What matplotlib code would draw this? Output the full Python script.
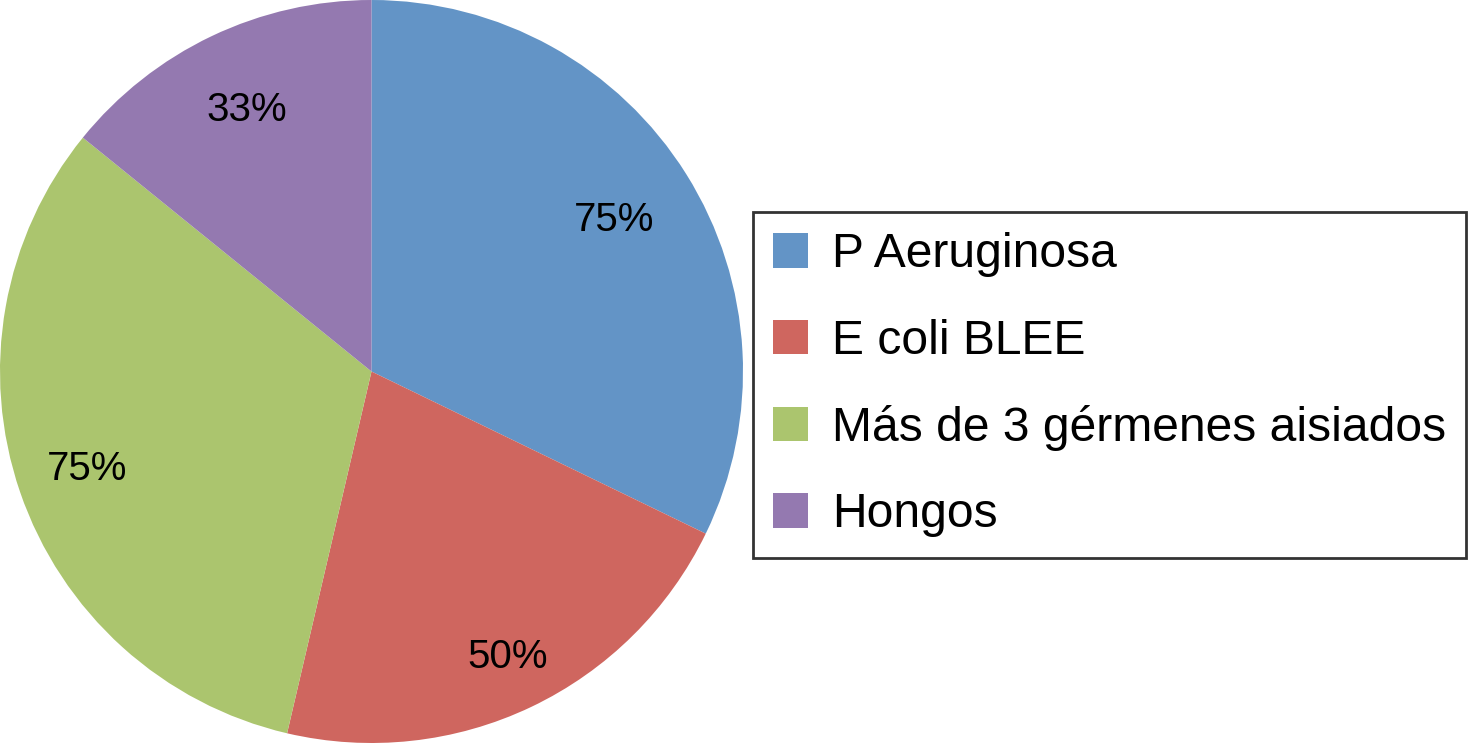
import numpy as np
import matplotlib.pyplot as plt

# Datos del gráfico
categorias = ["P Aeruginosa", "E coli BLEE", "Más de 3 gérmenes aisiados", "Hongos"]
valores = [75, 50, 75, 33]
etiquetas = ["75%", "50%", "75%", "33%"]
colores = ["#6394C6", "#CF665F", "#ABC56E", "#9479B0"]
distancias = [0.77, 0.85, 0.81, 0.78]  # distancia de cada etiqueta al centro

plt.rcParams["font.family"] = ["Liberation Sans", "DejaVu Sans"]

fig = plt.figure(figsize=(14.76, 7.43), dpi=100)
ax = fig.add_axes([0, 0, 743 / 1476, 1])

wedges, _ = ax.pie(
    valores,
    colors=colores,
    startangle=90,
    counterclock=False,
    radius=1.0,
    wedgeprops={"linewidth": 0},
)

# Etiquetas de porcentaje en cada porción
for w, txt, d in zip(wedges, etiquetas, distancias):
    ang = np.deg2rad((w.theta1 + w.theta2) / 2)
    ax.text(d * np.cos(ang), d * np.sin(ang), txt, ha="center", va="center",
            fontsize=29, color="black")

ax.set_aspect("equal")
ax.set_xlim(-1.0, 1.0)
ax.set_ylim(-1.0, 1.0)

leg = fig.legend(
    wedges,
    categorias,
    loc="center left",
    bbox_to_anchor=(753 / 1476, 0.482),
    fontsize=34.6,
    frameon=True,
    fancybox=False,
    handlelength=0.72,
    handleheight=0.72,
    handletextpad=0.5,
    labelspacing=0.86,
    borderpad=0.42,
    borderaxespad=0,
)
leg.get_frame().set_edgecolor("black")
leg.get_frame().set_linewidth(2)

plt.savefig("out.png", dpi=100)
